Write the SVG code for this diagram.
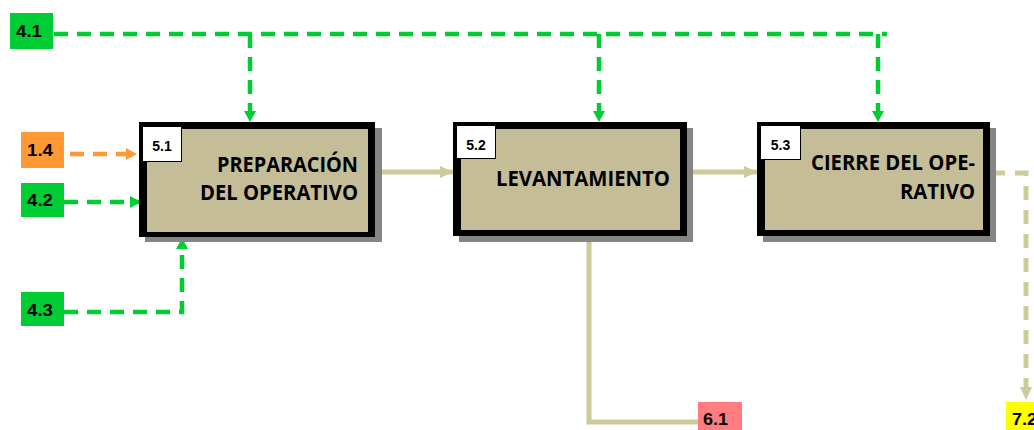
<svg xmlns="http://www.w3.org/2000/svg" width="1034" height="430" viewBox="0 0 1034 430">
<style>
.shadow{fill:#858585}
.frame{fill:#000}
.body{fill:#C4BD97}
.tag{fill:#fff;stroke:#000;stroke-width:1}
.tagt{font-family:"Liberation Sans",Arial,sans-serif;font-weight:bold;font-size:14px;fill:#000;text-anchor:middle}
.title{font-family:"Open Sans","Liberation Sans",sans-serif;font-weight:bold;font-size:21px;fill:#000;text-anchor:end}
.ref{font-family:"Liberation Sans",Arial,sans-serif;font-weight:bold;font-size:16px;fill:#000}
.g{fill:none;stroke:#00CC33;stroke-width:4.5;stroke-dasharray:14 9}
.o{fill:none;stroke:#FF9933;stroke-width:4.5;stroke-dasharray:14 9}
.b{fill:none;stroke:#CDCA9C;stroke-width:5}
.bd{fill:none;stroke:#CDCA9C;stroke-width:5;stroke-dasharray:14 10}
</style>
<defs>
<marker id="ag" markerUnits="userSpaceOnUse" markerWidth="12" markerHeight="12" refX="11" refY="6" orient="auto" viewBox="0 0 12 12"><path d="M0,0 L11,6 L0,12 z" fill="#00CC33"/></marker>
<marker id="ao" markerUnits="userSpaceOnUse" markerWidth="12" markerHeight="12" refX="11" refY="6" orient="auto" viewBox="0 0 12 12"><path d="M0,0 L11,6 L0,12 z" fill="#FF9933"/></marker>
<marker id="ab" markerUnits="userSpaceOnUse" markerWidth="14" markerHeight="12" refX="13" refY="6" orient="auto" viewBox="0 0 14 12"><path d="M0,0 L13,6 L0,12 z" fill="#CDCA9C"/></marker>
</defs>
<rect width="1034" height="430" fill="#fff"/>

<g id="connectors">
  <path class="g" d="M54,34 H887"/>
  <path class="g" d="M250,34 V122" marker-end="url(#ag)"/>
  <path class="g" d="M599,34 V122" marker-end="url(#ag)"/>
  <path class="g" d="M878,34 V122" marker-end="url(#ag)"/>
  <path class="o" d="M70,154 H137" marker-end="url(#ao)"/>
  <path class="g" d="M64,202 H141" marker-end="url(#ag)"/>
  <path class="g" d="M64,312 H182 V238" marker-end="url(#ag)"/>
  <path class="b" d="M376,172 H453" marker-end="url(#ab)"/>
  <path class="b" d="M688,172 H757" marker-end="url(#ab)"/>
  <path class="b" d="M589,236 V422 H698"/>
  <path class="bd" d="M991,173 H1026 V400" marker-end="url(#ab)"/>
</g>

<g id="n51">
  <rect class="shadow" x="145" y="128" width="237" height="114"/>
  <rect class="frame" x="139" y="122" width="236" height="115"/>
  <rect class="body" x="147" y="129" width="221" height="103"/>
  <rect class="tag" x="142.5" y="126.5" width="39" height="35"/>
  <text class="tagt" x="162" y="151">5.1</text>
  <text class="title" x="358" y="172" textLength="141" lengthAdjust="spacingAndGlyphs">PREPARACIÓN</text>
  <text class="title" x="358" y="200" textLength="158" lengthAdjust="spacingAndGlyphs">DEL OPERATIVO</text>
</g>

<g id="n52">
  <rect class="shadow" x="459" y="128" width="234" height="114"/>
  <rect class="frame" x="453" y="122" width="234" height="114"/>
  <rect class="body" x="461" y="129" width="219" height="101"/>
  <rect class="tag" x="456.5" y="125.5" width="39" height="33"/>
  <text class="tagt" x="476" y="150">5.2</text>
  <text class="title" x="670" y="186" textLength="174" lengthAdjust="spacingAndGlyphs">LEVANTAMIENTO</text>
</g>

<g id="n53">
  <rect class="shadow" x="763" y="128" width="233" height="114"/>
  <rect class="frame" x="757" y="122" width="233" height="114"/>
  <rect class="body" x="765" y="129" width="218" height="101"/>
  <rect class="tag" x="760.5" y="125.5" width="40" height="34"/>
  <text class="tagt" x="780.5" y="150">5.3</text>
  <text class="title" x="975" y="170" textLength="164" lengthAdjust="spacingAndGlyphs">CIERRE DEL OPE-</text>
  <text class="title" x="975" y="199" textLength="75" lengthAdjust="spacingAndGlyphs">RATIVO</text>
</g>

<g id="r41">
  <rect x="10" y="13" width="43" height="36" fill="#00CC33"/>
  <text class="ref" x="16" y="37" textLength="26" lengthAdjust="spacingAndGlyphs">4.1</text>
</g>
<g id="r14">
  <rect x="21" y="132" width="43" height="36" fill="#FF9933"/>
  <text class="ref" x="27" y="156" textLength="26" lengthAdjust="spacingAndGlyphs">1.4</text>
</g>
<g id="r42">
  <rect x="21" y="183" width="43" height="34" fill="#00CC33"/>
  <text class="ref" x="27" y="206" textLength="26" lengthAdjust="spacingAndGlyphs">4.2</text>
</g>
<g id="r43">
  <rect x="21" y="292" width="43" height="34" fill="#00CC33"/>
  <text class="ref" x="27" y="316" textLength="26" lengthAdjust="spacingAndGlyphs">4.3</text>
</g>
<g id="r61">
  <rect x="698" y="402" width="44" height="30" fill="#FF7C80"/>
  <text class="ref" x="703" y="425" textLength="25" lengthAdjust="spacingAndGlyphs">6.1</text>
</g>
<g id="r72">
  <rect x="1006" y="402" width="30" height="30" fill="#FFFF00"/>
  <text class="ref" x="1012" y="425" textLength="25" lengthAdjust="spacingAndGlyphs">7.2</text>
</g>
</svg>
